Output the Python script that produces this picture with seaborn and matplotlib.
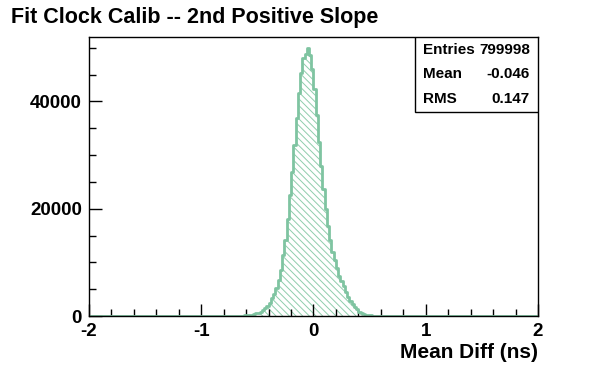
import numpy as np
import pandas as pd
import matplotlib
matplotlib.use('Agg')
import matplotlib.pyplot as plt
import seaborn as sns

# histograma: 200 bins de 0.02 entre -2 e 2 (contagens)
bin_lo = -2.0
bin_hi = 2.0
n_bins = 200
first_bin = 62  # indice do primeiro bin com contagem (-0.76)
counts = [10, 15, 20, 30, 40, 60, 90, 120,                         # -0.76 .. -0.62
          150, 200, 250, 370, 500, 620, 810, 1120, 1500, 1930,     # -0.60 .. -0.42
          2490, 3300, 4110, 5170, 6730, 8600, 11400, 14200, 18070, 22600,  # -0.40 .. -0.22
          26800, 31960, 36900, 41600, 45350, 48000, 48800, 49900, 48600, 46000,  # -0.20 .. -0.02
          42300, 37500, 32400, 28000, 23700, 19900, 16700, 14200, 12000, 10500,  # 0.00 .. 0.18
          8900, 7500, 6600, 5600, 4550, 3600, 2870, 2240, 1740, 1250,  # 0.20 .. 0.38
          810, 620, 370, 250, 160, 110, 70, 45, 25, 12]              # 0.40 .. 0.58

stats_labels = ['Entries', 'Mean', 'RMS']
stats_values = ['799998', '-0.046', '0.147']

edges = list(np.linspace(bin_lo, bin_hi, n_bins + 1))
centers = [0.5 * (edges[i] + edges[i + 1]) for i in range(n_bins)]
df = pd.DataFrame({'x': centers[first_bin:first_bin + len(counts)],
                   'n': counts})

plt.rcParams['font.family'] = ['Liberation Sans', 'DejaVu Sans']
plt.rcParams['font.weight'] = 'bold'
plt.rcParams['hatch.linewidth'] = 0.7
plt.rcParams['axes.unicode_minus'] = False

verde = '#7fc4a1'

fig = plt.figure(figsize=(5.96, 3.72), dpi=100)
ax = fig.add_axes([0.1493, 0.1505, 0.7534, 0.75])

# preenchimento hachurado
sns.histplot(df, x='x', weights='n', bins=edges, element='step', fill=True,
             color=verde, linewidth=0, ax=ax)
for col in ax.collections:
    col.set_facecolor('none')
    col.set_edgecolor('#8fcdad')
    col.set_hatch('\\\\\\\\\\')
    col.set_linewidth(0)
# contorno
sns.histplot(df, x='x', weights='n', bins=edges, element='step', fill=False,
             color=verde, linewidth=2, ax=ax)

ax.set_xlim(-2, 2)
ax.set_ylim(0, 52000)
ax.set_xticks([-2, -1, 0, 1, 2])
ax.set_xticks(np.arange(-2, 2.01, 0.2), minor=True)
ax.set_yticks([0, 20000, 40000])
ax.set_yticks(np.arange(0, 52000, 5000), minor=True)
ax.tick_params(which='both', direction='in', top=False, right=False,
               labelsize=13.5, width=1)
ax.tick_params(which='major', length=9, pad=5)
ax.tick_params(which='minor', length=5)
for s in ax.spines.values():
    s.set_linewidth(1)
    s.set_color('black')

ax.set_ylabel('')
ax.set_xlabel('Mean Diff (ns)', fontsize=15, fontweight='bold')
ax.xaxis.set_label_coords(1.0, -0.129)
ax.xaxis.label.set_horizontalalignment('right')
ax.xaxis.label.set_verticalalignment('center')

fig.text(0.018, 0.954, 'Fit Clock Calib -- 2nd Positive Slope',
         fontsize=15.5, fontweight='bold', ha='left', va='center')

# caixa de estatisticas
box = plt.Rectangle((0.726, 0.731), 0.274, 0.269, transform=ax.transAxes,
                    facecolor='white', edgecolor='black', linewidth=1, zorder=5)
ax.add_patch(box)
row_y = [0.953, 0.867, 0.778]
for lab, val, yy in zip(stats_labels, stats_values, row_y):
    ax.text(0.744, yy, lab, transform=ax.transAxes, fontsize=11,
            fontweight='bold', va='center', ha='left', zorder=6)
    ax.text(0.982, yy, val, transform=ax.transAxes, fontsize=11,
            fontweight='bold', va='center', ha='right', zorder=6)

fig.savefig('out.png', dpi=100)
